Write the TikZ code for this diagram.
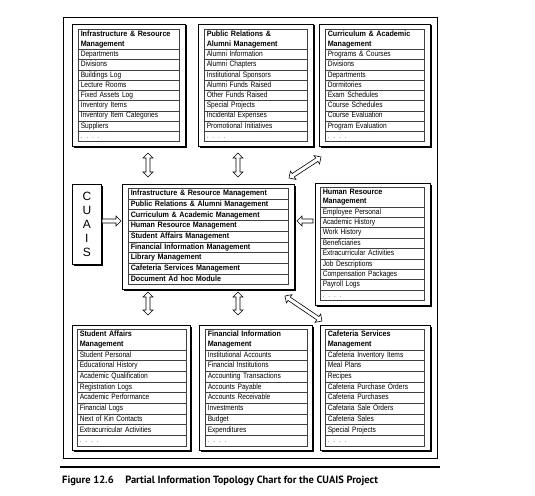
\documentclass[tikz,border=0pt]{standalone}
\usepackage{fontspec}
\setmainfont{Liberation Sans}
\newfontfamily\capfont{PT Sans}
\newfontfamily\boxreg{Liberation Sans}[FakeStretch=0.85]
\newfontfamily\boxbold{Liberation Sans}[FakeStretch=0.92]
\usetikzlibrary{calc,shadows}
\tikzset{
  frame/.style={draw=black, line width=1.4pt},
  obox/.style={draw=black, line width=0.8pt, fill=white, inner sep=0pt, anchor=north west,
    general shadow={fill=black, shadow xshift=1.1pt, shadow yshift=-1.1pt}},
  cellbase/.style={draw=black!75, line width=0.5pt, inner xsep=2.5pt, inner ysep=0pt, anchor=north west, align=left},
  hcell/.style={cellbase, font=\boxbold\bfseries\fontsize{7.8}{9.3}\selectfont},
  rcell/.style={cellbase, font=\boxreg\fontsize{7.8}{9}\selectfont, text height=5.7pt, text depth=1.6pt},
  ccell/.style={rcell, font=\boxbold\bfseries\fontsize{7.8}{9}\selectfont},
  harrow/.style={draw=black, fill=white, line width=0.6pt},
}
\newcommand{\rowdots}{{\color{black!55}. . . .}}
% #1 name, #2 x, #3 y, #4 width, #5 header height, #6 row height, #7 header, #8 rows
\newcommand{\tbl}[8]{%
  \pgfmathsetmacro\tw{#4-5}%
  \node[hcell, text width=\tw pt, minimum height=#5pt] (#1h) at (#2,#3) {#7};
  \foreach \itm [count=\i] in {#8} {
    \node[rcell, text width=\tw pt, minimum height=#6pt] (#1r\i) at (#2,{#3+#5+(\i-1)*#6}) {\itm};
  }
}
% double-headed hollow arrow between two coordinates
\newcommand{\harrtwo}[2]{%
  \path[harrow] let \p1=#1, \p2=#2, \n1={atan2(\y2-\y1,\x2-\x1)}, \n2={veclen(\x2-\x1,\y2-\y1)} in
    [shift={(\p1)}, rotate=\n1, x=1pt, y=1pt]
    (0,0) -- (5,5) -- (5,2) -- ({\n2-5},2) -- ({\n2-5},5) -- (\n2,0) -- ({\n2-5},-5) -- ({\n2-5},-2) -- (5,-2) -- (5,-5) -- cycle;
}
% single-headed hollow arrow
\newcommand{\harrone}[2]{%
  \path[harrow] let \p1=#1, \p2=#2, \n1={atan2(\y2-\y1,\x2-\x1)}, \n2={veclen(\x2-\x1,\y2-\y1)} in
    [shift={(\p1)}, rotate=\n1, x=1pt, y=1pt]
    (0,2) -- ({\n2-5},2) -- ({\n2-5},5) -- (\n2,0) -- ({\n2-5},-5) -- ({\n2-5},-2) -- (0,-2) -- cycle;
}
\begin{document}
\begin{tikzpicture}[x=1pt, y=-1pt]
\useasboundingbox (0,0) rectangle (535,495);
\fill[white] (0,0) rectangle (535,495);
\node[frame, inner sep=0pt, anchor=north west, minimum width=374pt, minimum height=441pt] (outer) at (63,17) {};

% top row
\node[obox, minimum width=113pt, minimum height=122pt] (t1) at (72,24) {};
\tbl{t1}{78}{29}{101}{20.3}{10.2}{Infrastructure \& Resource\\Management}{Departments, Divisions, Buildings Log, Lecture Rooms, Fixed Assets Log, Inventory Items, Inventory Item Categories, Suppliers, \rowdots}
\node[obox, minimum width=115pt, minimum height=122pt] (t2) at (198,24) {};
\tbl{t2}{204}{29}{103}{20.3}{10.2}{Public Relations \&\\Alumni Management}{Alumni Information, Alumni Chapters, Institutional Sponsors, Alumni Funds Raised, Other Funds Raised, Special Projects, Incidental Expenses, Promotional Initiatives, \rowdots}
\node[obox, minimum width=111pt, minimum height=122pt] (t3) at (319,24) {};
\tbl{t3}{325}{29}{99}{20.3}{10.2}{Curriculum \& Academic\\Management}{Programs \& Courses, Divisions, Departments, Dormitories, Exam Schedules, Course Schedules, Course Evaluation, Program Evaluation, \rowdots}

% middle row
\node[obox, minimum width=29pt, minimum height=80pt, align=center, font=\fontsize{12}{14.1}\selectfont] (cuais) at (72,184) {C\\U\\A\\I\\S};
\node[obox, minimum width=172pt, minimum height=105pt] (center) at (122,184) {};
\foreach \itm [count=\i] in {Infrastructure \& Resource Management, Public Relations \& Alumni Management, Curriculum \& Academic Management, Human Resource Management, Student Affairs Management, Financial Information Management, Library Management, Cafeteria Services Management, Document Ad hoc Module} {
  \node[ccell, text width=155pt, minimum height=10.7pt] (cr\i) at (128,{188+(\i-1)*10.7}) {\itm};
}
\node[obox, minimum width=115pt, minimum height=122pt] (hr) at (315,183) {};
\tbl{hr}{320}{187}{104}{19.5}{10.4}{Human Resource\\Management}{Employee Personal, Academic History, Work History, Beneficiaries, Extracurricular Activities, Job Descriptions, Compensation Packages, Payroll Logs, \rowdots}

% bottom row
\node[obox, minimum width=118pt, minimum height=125pt] (b1) at (72,325) {};
\tbl{b1}{77}{329}{109}{20.5}{10.7}{Student Affairs\\Management}{Student Personal, Educational History, Academic Qualification, Registration Logs, Academic Performance, Financial Logs, Next of Kin Contacts, Extracurricular Activities, \rowdots}
\node[obox, minimum width=113pt, minimum height=125pt] (b2) at (199,325) {};
\tbl{b2}{205}{329}{102}{20.5}{10.7}{Financial Information\\Management}{Institutional Accounts, Financial Institutions, Accounting Transactions, Accounts Payable, Accounts Receivable, Investments, Budget, Expenditures, \rowdots}
\node[obox, minimum width=110pt, minimum height=125pt] (b3) at (320,325) {};
\tbl{b3}{325}{329}{99}{20.5}{10.7}{Cafeteria Services\\Management}{Cafeteria Inventory Items, Meal Plans, Recipes, Cafeteria Purchase Orders, Cafeteria Purchases, Cafetaria Sale Orders, Cafeteria Sales, Special Projects, \rowdots}

% arrows
\coordinate (a1s) at (148,153); \coordinate (a1e) at (148,177);
\coordinate (a2s) at (238,153); \coordinate (a2e) at (238,177);
\coordinate (a3s) at (289,178); \coordinate (a3e) at (321,157);
\coordinate (a4s) at (102,221); \coordinate (a4e) at (121,221);
\coordinate (a5s) at (313,221); \coordinate (a5e) at (297,221);
\coordinate (a6s) at (148,292); \coordinate (a6e) at (148,315);
\coordinate (a7s) at (238,292); \coordinate (a7e) at (238,315);
\coordinate (a8s) at (285,296); \coordinate (a8e) at (322,321);
\harrtwo{(a1s)}{(a1e)}
\harrtwo{(a2s)}{(a2e)}
\harrtwo{(a3s)}{(a3e)}
\harrone{(a4s)}{(a4e)}
\harrone{(a5s)}{(a5e)}
\harrtwo{(a6s)}{(a6e)}
\harrtwo{(a7s)}{(a7e)}
\harrtwo{(a8s)}{(a8e)}

% caption
\coordinate (r1) at (60,467); \coordinate (r2) at (440,467);
\draw[line width=2pt] (r1) -- (r2);
\node[anchor=west, inner sep=0pt, font=\capfont\bfseries\fontsize{10.5}{12}\selectfont] (cap) at (62,481) {Figure 12.6\hspace{1.1em}Partial Information Topology Chart for the CUAIS Project};
\end{tikzpicture}
\end{document}
